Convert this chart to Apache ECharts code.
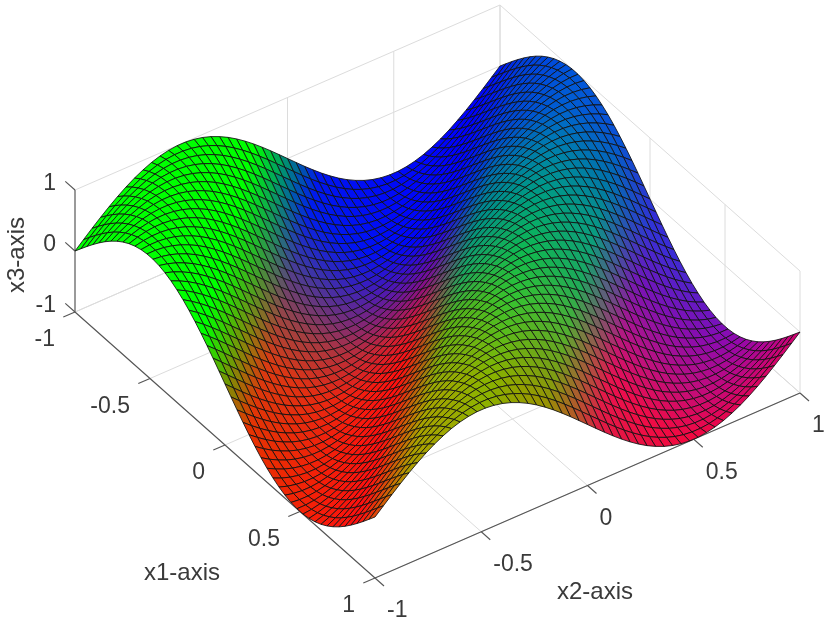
<!DOCTYPE html>
<html><head><meta charset="utf-8">
<style>html,body{margin:0;padding:0;background:#fff}#c{width:830px;height:620px}</style>
<script src="https://cdn.jsdelivr.net/npm/echarts@6/dist/echarts.min.js"></script>
</head><body><div id="c"></div>
<script>
const x1Ticks=[-1,-0.5,0,0.5,1];
const x2Ticks=[-1,-0.5,0,0.5,1];
const x3Ticks=[-1,0,1];
const cellsPerSide=50;
// heights read along the diagonals of the mesh (x1+x2 from -2 to 2 in steps of 0.04): mesh nodes on one diagonal share a height
const x3AlongDiagonal=[0,.125,.249,.368,.482,.588,.685,.771,.844,.905,.951,.982,.998,.998,.982,.951,.905,.844,.771,.685,.588,.482,.368,.249,.125,
0,-.125,-.249,-.368,-.482,-.588,-.685,-.771,-.844,-.905,-.951,-.982,-.998,-.998,-.982,-.951,-.905,-.844,-.771,-.685,-.588,-.482,-.368,-.249,-.125,
0,.125,.249,.368,.482,.588,.685,.771,.844,.905,.951,.982,.998,.998,.982,.951,.905,.844,.771,.685,.588,.482,.368,.249,.125,
0,-.125,-.249,-.368,-.482,-.588,-.685,-.771,-.844,-.905,-.951,-.982,-.998,-.998,-.982,-.951,-.905,-.844,-.771,-.685,-.588,-.482,-.368,-.249,-.125,0];
// colour anchors over (x1+x2, x1-x2)
const colorSum=[-2,-1.15,-0.85,-0.1,0.15,0.5,0.8,1.05,2];
const colorDiff=[-2,-1.2,-0.8,-0.37,0.1,0.5,1.2,2];
const colorAnchors=[
[[0,255,0],[0,255,0],[0,255,0],[0,255,0],[0,255,0],[0,255,0],[0,255,0],[0,255,0]],
[[0,255,0],[0,255,0],[0,255,0],[0,255,0],[0,255,0],[0,255,0],[0,255,0],[0,255,0]],
[[0,20,240],[0,20,240],[0,30,235],[60,60,160],[150,70,70],[215,60,20],[230,50,0],[230,50,0]],
[[0,0,255],[0,0,255],[0,0,255],[105,10,170],[215,25,50],[255,15,15],[255,15,15],[255,15,15]],
[[0,60,220],[0,70,210],[0,110,170],[0,145,130],[30,165,90],[90,175,20],[165,165,0],[175,155,0]],
[[0,70,235],[0,95,210],[0,130,170],[0,160,125],[15,185,80],[50,195,50],[135,180,0],[155,175,0]],
[[20,70,220],[10,80,215],[0,115,170],[10,155,130],[30,170,90],[80,175,50],[155,145,0],[155,145,0]],
[[60,30,215],[60,30,215],[50,50,215],[115,20,185],[180,20,135],[235,15,80],[215,35,60],[215,35,60]],
[[130,0,195],[130,0,195],[130,0,195],[170,0,165],[220,0,100],[255,0,40],[255,0,40],[255,0,40]]
];
const axisTitles=[
 {text:'x1-axis',px:[182,573],turn:0},
 {text:'x2-axis',px:[595,592],turn:0},
 {text:'x3-axis',px:[17,255],turn:1.5708}
];
const view={cx:437.5,cy:291.5,x1:[150,133],x2:[212.5,-92.5],x3:61};
const tickFont='23px "Liberation Sans", Arial, sans-serif';
const titleFont='24px "Liberation Sans", Arial, sans-serif';

function project(a,b,c){return [view.cx+view.x1[0]*a+view.x2[0]*b, view.cy+view.x1[1]*a+view.x2[1]*b-view.x3*c];}
function seek(list,v){let k=0;while(k<list.length-2&&v>list[k+1])k++;return [k,Math.min(1,Math.max(0,(v-list[k])/(list[k+1]-list[k])))];}
function colorAt(a,b){
 const [p,s]=seek(colorSum,a+b),[q,t]=seek(colorDiff,a-b),out=[0,0,0];
 for(let n=0;n<3;n++){
  const l=colorAnchors[p][q][n]*(1-t)+colorAnchors[p][q+1][n]*t;
  const r=colorAnchors[p+1][q][n]*(1-t)+colorAnchors[p+1][q+1][n]*t;
  out[n]=Math.round(l*(1-s)+r*s);
 }
 return 'rgb('+out.join(',')+')';
}
const pos=k=>-1+2*k/cellsPerSide;
const heightAt=(i,j)=>x3AlongDiagonal[i+j];

// cells, far to near
const cells=[];
for(let i=0;i<cellsPerSide;i++)for(let j=0;j<cellsPerSide;j++)cells.push([i,j]);
cells.sort((m,n)=>(m[0]-m[1])-(n[0]-n[1]));

// box and grid lines
const wall=[],axes=[];
const zLo=x3Ticks[0],zHi=x3Ticks[x3Ticks.length-1];
x2Ticks.forEach(b=>{wall.push([-1,b,zLo,-1,b,zHi]);wall.push([-1,b,zLo,1,b,zLo]);});
x1Ticks.forEach(a=>{wall.push([a,1,zLo,a,1,zHi]);wall.push([a,-1,zLo,a,1,zLo]);});
x3Ticks.forEach(c=>{wall.push([-1,-1,c,-1,1,c]);wall.push([-1,1,c,1,1,c]);});
axes.push([-1,-1,zLo,1,-1,zLo,0]);
axes.push([1,-1,zLo,1,1,zLo,0]);
axes.push([-1,-1,zLo,-1,-1,zHi,1]);
x1Ticks.forEach(a=>axes.push([a,-1,zLo,a,-1.055,zLo,0]));
x2Ticks.forEach(b=>axes.push([1,b,zLo,1.06,b,zLo,0]));
x3Ticks.forEach(c=>axes.push([-1,-1,c,-1.065,-1,c,0]));

const labels=[];
x1Ticks.forEach(a=>labels.push({text:String(a),at:[a,-1,zLo],dx:-20,dy:28,align:'right'}));
x2Ticks.forEach(b=>labels.push({text:String(b),at:[1,b,zLo],dx:12,dy:33,align:'left'}));
x3Ticks.forEach(c=>labels.push({text:String(c),at:[-1,-1,c],dx:-19,dy:-6,align:'right'}));

const segItem=(color,width)=>function(p,api){
 const s=api.coord(project(api.value(0),api.value(1),api.value(2)));
 const e=api.coord(project(api.value(3),api.value(4),api.value(5)));
 const st=typeof color==='function'?color(api.value(6)):{stroke:color,lineWidth:width};
 return {type:'line',shape:{x1:s[0],y1:s[1],x2:e[0],y2:e[1]},style:Object.assign({fill:null},st)};
};

const chart=echarts.init(document.getElementById('c'),null,{renderer:'canvas'});
chart.setOption({
 animation:false,
 backgroundColor:'#fff',
 grid:{left:0,right:0,top:0,bottom:0},
 xAxis:{type:'value',min:0,max:830,show:false},
 yAxis:{type:'value',min:0,max:620,inverse:true,show:false},
 series:[
  {type:'custom',coordinateSystem:'cartesian2d',silent:true,clip:false,data:wall,renderItem:segItem('#dcdcdc',1),encode:{x:0,y:1}},
  {type:'custom',coordinateSystem:'cartesian2d',silent:true,clip:false,data:axes,encode:{x:0,y:1},
   renderItem:segItem(k=>k?{stroke:'#858585',lineWidth:1.6}:{stroke:'#555',lineWidth:1.1})},
  {type:'custom',coordinateSystem:'cartesian2d',silent:true,clip:false,progressive:0,data:cells,encode:{x:0,y:1},
   renderItem:function(p,api){
    const i=api.value(0),j=api.value(1);
    const pts=[[i,j],[i+1,j],[i+1,j+1],[i,j+1]].map(n=>api.coord(project(pos(n[0]),pos(n[1]),heightAt(n[0],n[1]))));
    return {type:'polygon',shape:{points:pts},style:{fill:colorAt(pos(i+.5),pos(j+.5)),stroke:'#101010',lineWidth:0.85}};
   }},
  {type:'custom',coordinateSystem:'cartesian2d',silent:true,clip:false,data:labels.map((l,n)=>[n,0]),encode:{x:0,y:1},
   renderItem:function(p,api){
    const l=labels[p.dataIndex],q=api.coord(project(l.at[0],l.at[1],l.at[2]));
    return {type:'text',style:{x:q[0]+l.dx,y:q[1]+l.dy,text:l.text,font:tickFont,fill:'#3a3a3a',textAlign:l.align,textVerticalAlign:'middle'}};
   }},
  {type:'custom',coordinateSystem:'cartesian2d',silent:true,clip:false,data:axisTitles.map((l,n)=>[n,0]),encode:{x:0,y:1},
   renderItem:function(p,api){
    const l=axisTitles[p.dataIndex],q=api.coord(l.px);
    return {type:'text',x:q[0],y:q[1],rotation:l.turn,style:{x:0,y:0,text:l.text,font:titleFont,fill:'#3a3a3a',textAlign:'center',textVerticalAlign:'middle'}};
   }}
 ]
});
</script></body></html>
